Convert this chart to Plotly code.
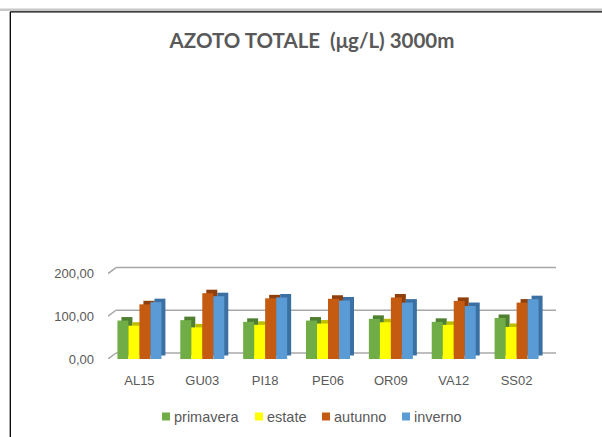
import plotly.graph_objects as go

# ---------------- data ----------------
categories = ["AL15", "GU03", "PI18", "PE06", "OR09", "VA12", "SS02"]
primavera = [90, 91, 87, 90, 94, 87, 96]
estate = [78, 74, 80, 83, 86, 80, 75]
autunno = [128, 154, 142, 141, 144, 136, 132]
inverno = [133, 147, 144, 137, 132, 124, 140]
series_names = ["primavera", "estate", "autunno", "inverno"]
y_tick_values = [0, 100, 200]
y_tick_labels = ["0,00", "100,00", "200,00"]
title_text = "AZOTO TOTALE  (μg/L) 3000m"

# ---------------- style ----------------
series_values = [primavera, estate, autunno, inverno]
front_colors = ["#70AD47", "#FFFF00", "#C55A11", "#5B9BD5"]
side_colors = ["#4F7F31", "#BDBD00", "#8E3F0B", "#3B70A3"]
text_color = "#595959"
grid_color = "#A8A8A8"

W, H = 602, 437
L, R, T, B = 108, 46, 265, 78
pw, ph = W - L - R, H - T - B
x_range = [-0.5, 6.627]
y_range = [0, 220]
ux = pw / (x_range[1] - x_range[0])   # px per category unit
uy = ph / (y_range[1] - y_range[0])   # px per value unit

bar_w = 11 / ux
depth_dx = 4 / ux
depth_dy = 3.5 / uy
grid_dx = 8 / ux
grid_dy = 6 / uy


def px_x(x):
    return (x - L) / pw


def px_y(y):
    return (H - B - y) / ph


xs = list(range(len(categories)))
fig = go.Figure()

for i, (name, vals) in enumerate(zip(series_names, series_values)):
    off = (i - 2) * bar_w
    fig.add_trace(go.Bar(
        x=xs, y=vals, base=[depth_dy] * len(vals), offset=off + depth_dx, width=bar_w,
        marker=dict(color=side_colors[i], line=dict(width=0)),
        showlegend=False, hoverinfo="skip"))
    fig.add_trace(go.Bar(
        x=xs, y=vals, offset=off, width=bar_w, name=name,
        marker=dict(color=front_colors[i], line=dict(width=0)),
        showlegend=False))

shapes = []
# back-wall gridlines with a short perspective stub at the left
for t in y_tick_values:
    shapes.append(dict(type="line", xref="x", yref="y", layer="below",
                       x0=x_range[0] + grid_dx, x1=x_range[1], y0=t + grid_dy, y1=t + grid_dy,
                       line=dict(color=grid_color, width=1.5)))
    shapes.append(dict(type="line", xref="x", yref="y", layer="below",
                       x0=x_range[0], x1=x_range[0] + grid_dx, y0=t, y1=t + grid_dy,
                       line=dict(color=grid_color, width=1.5)))

# outer frame
shapes.append(dict(type="line", xref="paper", yref="paper",
                   x0=px_x(0), x1=px_x(W), y0=px_y(9.8), y1=px_y(9.8),
                   line=dict(color="#C8C8C8", width=2.5)))
shapes.append(dict(type="line", xref="paper", yref="paper",
                   x0=px_x(10.3), x1=px_x(W), y0=px_y(11.8), y1=px_y(11.8),
                   line=dict(color="#000000", width=1.3)))
shapes.append(dict(type="line", xref="paper", yref="paper",
                   x0=px_x(10.3), x1=px_x(10.3), y0=px_y(11.8), y1=px_y(H),
                   line=dict(color="#000000", width=1.3)))

# custom legend
legend_x = [162, 255, 322, 402]
legend_y = 416.5
annotations = []
for i, name in enumerate(series_names):
    lx = legend_x[i]
    shapes.append(dict(type="rect", xref="paper", yref="paper",
                       x0=px_x(lx), x1=px_x(lx + 8), y0=px_y(legend_y - 4), y1=px_y(legend_y + 4),
                       fillcolor=front_colors[i], line=dict(width=0)))
    annotations.append(dict(xref="paper", yref="paper", x=px_x(lx + 10), y=px_y(legend_y),
                            xanchor="left", yanchor="middle", showarrow=False, text=name,
                            font=dict(family="Liberation Sans, Arial", size=14.5, color=text_color)))

fig.update_layout(
    width=W, height=H,
    margin=dict(l=L, r=R, t=T, b=B, pad=0),
    paper_bgcolor="white", plot_bgcolor="white",
    barmode="overlay",
    showlegend=False,
    title=dict(text=title_text, x=312 / W, y=1 - 41 / H, xref="container", yref="container",
               xanchor="center", yanchor="middle",
               font=dict(family="Lato, Liberation Sans", size=20.5, color=text_color, weight="bold")),
    xaxis=dict(range=x_range, tickvals=xs, ticktext=categories, showgrid=False, zeroline=False,
               showline=False, ticks="", ticklabelstandoff=12,
               tickfont=dict(family="Liberation Sans, Arial", size=13, color=text_color)),
    yaxis=dict(range=y_range, tickvals=y_tick_values, ticktext=y_tick_labels, showgrid=False,
               zeroline=False, showline=False, ticks="", ticklabelstandoff=13,
               tickfont=dict(family="Liberation Sans, Arial", size=13, color=text_color)),
    shapes=shapes,
    annotations=annotations,
)

fig.write_html(
    "out.html",
    config={"displayModeBar": False},
    post_script="document.body.style.margin='0';document.body.style.overflow='hidden';",
)
